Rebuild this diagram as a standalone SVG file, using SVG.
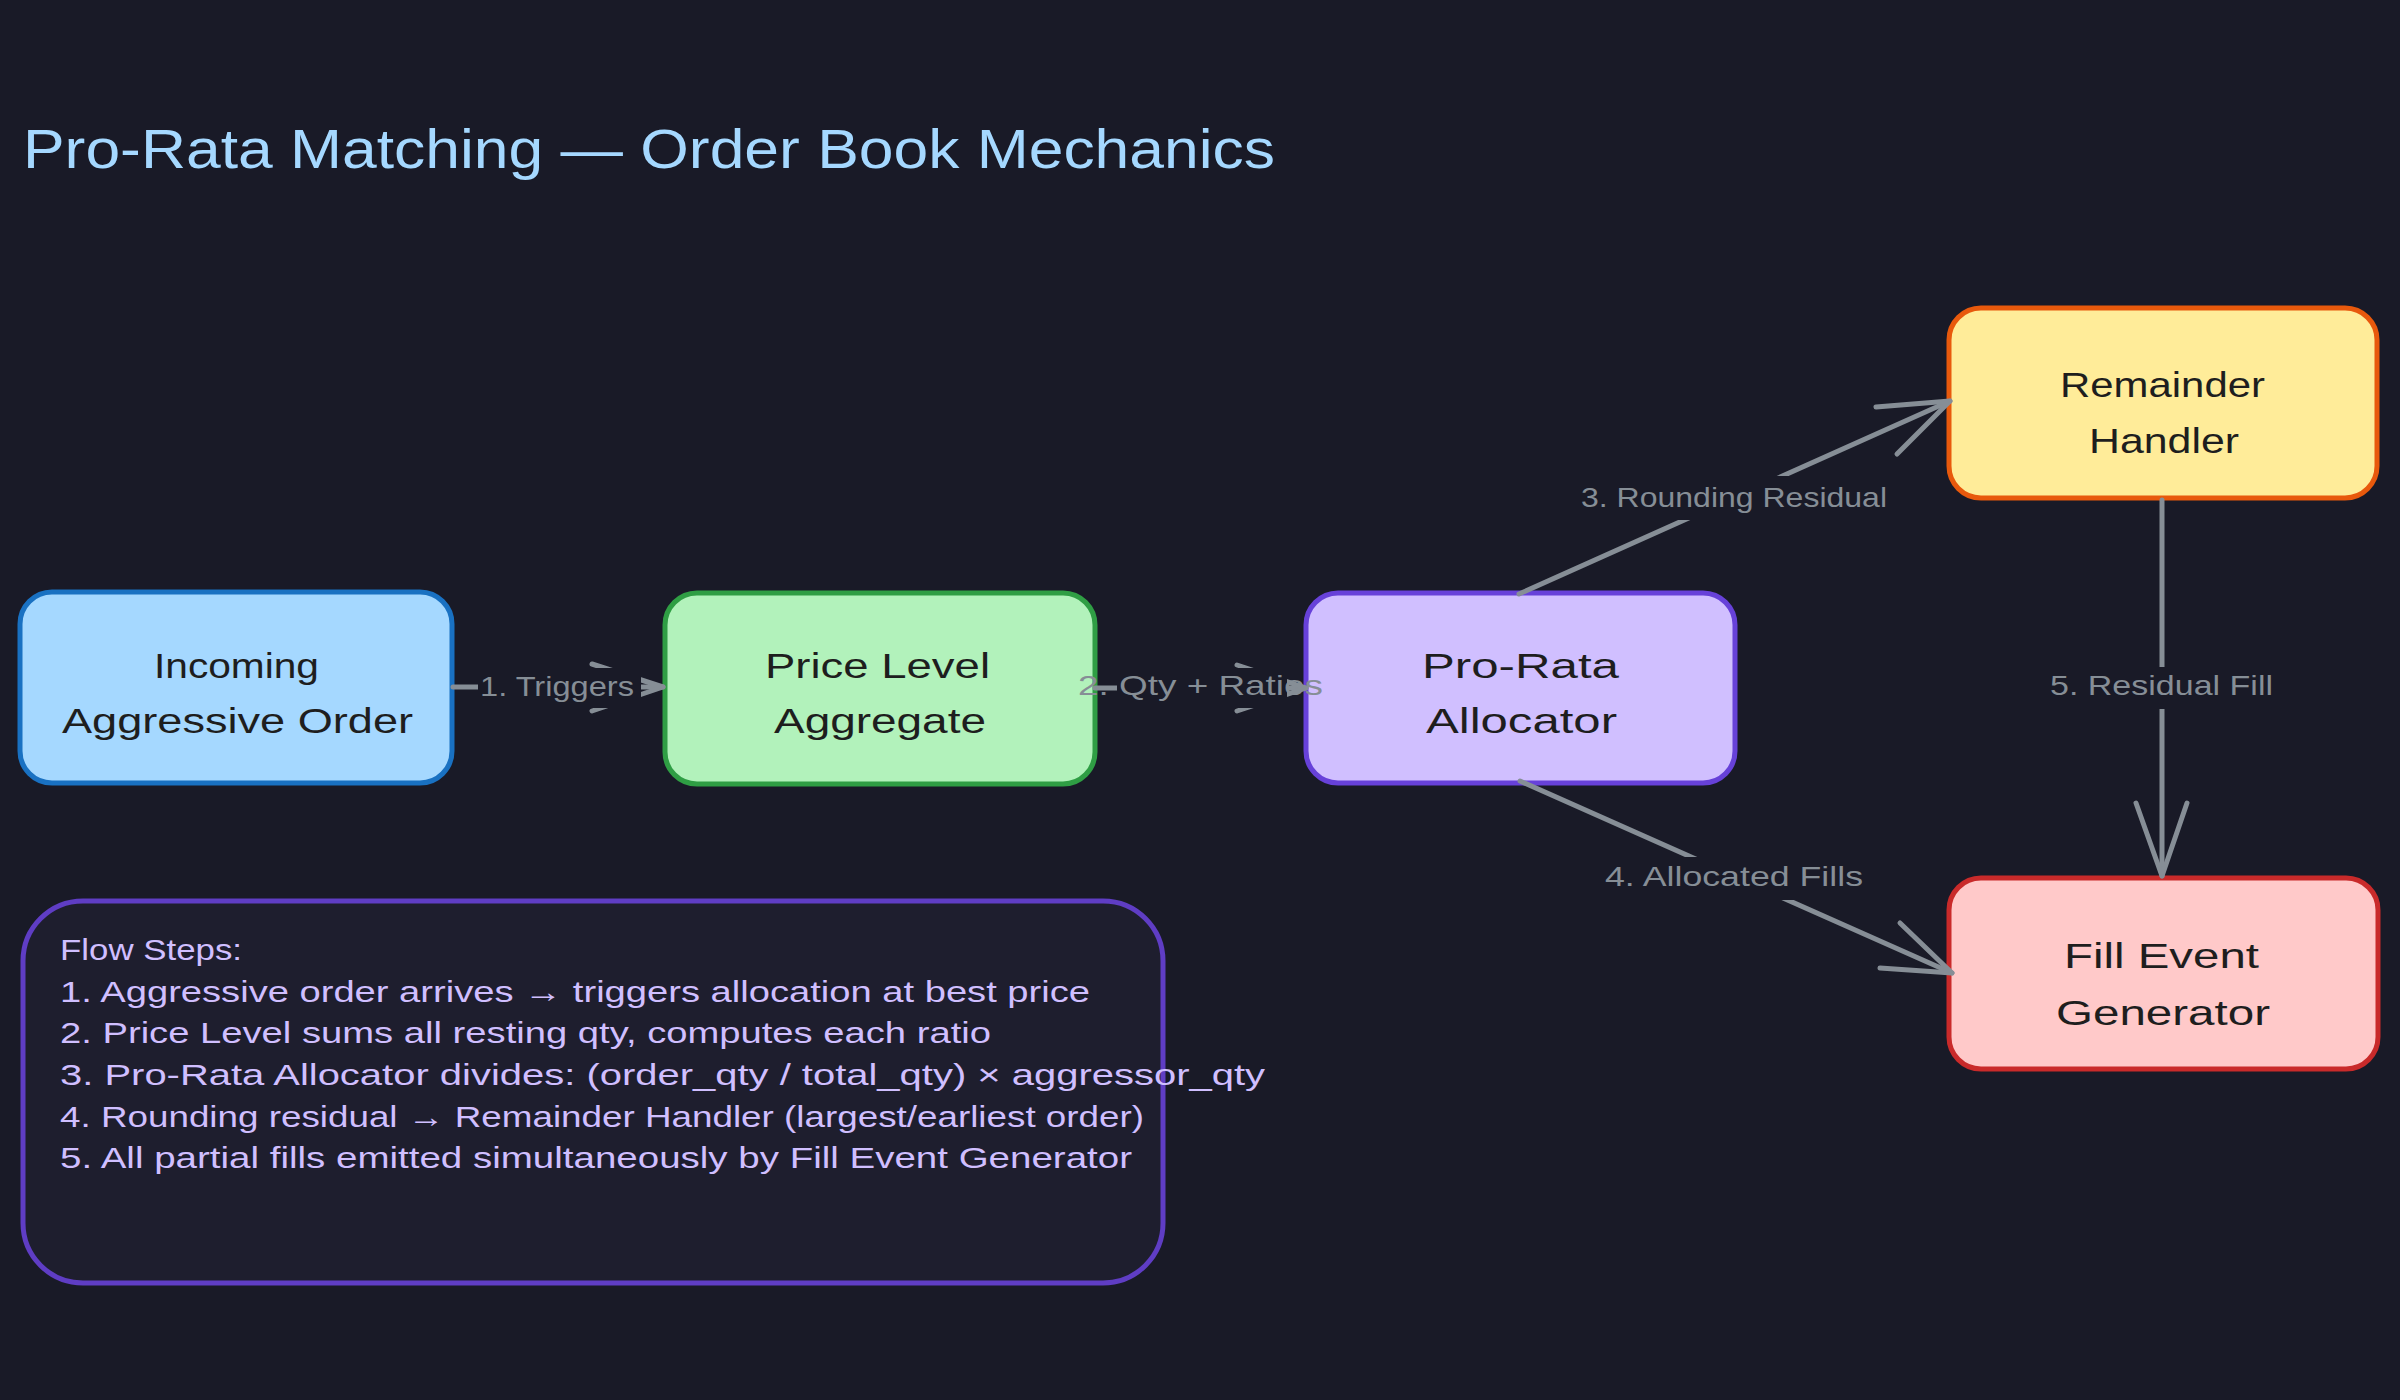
<svg xmlns="http://www.w3.org/2000/svg" width="2400" height="1400" viewBox="0 0 2400 1400">
  <style>
    .bg { fill: #191a27; }
    .node { stroke-width: 5; }
    .ntext { font-family: "Liberation Sans", "DejaVu Sans", sans-serif; font-size: 35px; fill: #1e1e1e; }
    .title { font-family: "Liberation Sans", "DejaVu Sans", sans-serif; font-size: 56px; fill: #a5d8ff; }
    .edge { stroke: #868e96; stroke-width: 5; fill: none; stroke-linecap: round; stroke-linejoin: round; }
    .mask { fill: #191a27; }
    .elabel { font-family: "Liberation Sans", "DejaVu Sans", sans-serif; font-size: 28px; fill: #868e96; }
    .notes { font-family: "Liberation Sans", "DejaVu Sans", sans-serif; font-size: 30px; fill: #d0bfff; }
  </style>
  <rect class="bg" x="0" y="0" width="2400" height="1400"/>

  <text class="title" x="23" y="168" textLength="1252" lengthAdjust="spacingAndGlyphs">Pro-Rata Matching — Order Book Mechanics</text>

  <g id="node-incoming">
    <rect class="node" x="20" y="592" width="432" height="191" rx="32" fill="#a5d8ff" stroke="#1971c2"/>
    <text class="ntext" x="154" y="678" textLength="165" lengthAdjust="spacingAndGlyphs">Incoming</text>
    <text class="ntext" x="62" y="733" textLength="351" lengthAdjust="spacingAndGlyphs">Aggressive Order</text>
  </g>
  <g id="node-pricelevel">
    <rect class="node" x="665" y="593" width="430" height="191" rx="32" fill="#b2f2bb" stroke="#2f9e44"/>
    <text class="ntext" x="765" y="678" textLength="225" lengthAdjust="spacingAndGlyphs">Price Level</text>
    <text class="ntext" x="774" y="733" textLength="212" lengthAdjust="spacingAndGlyphs">Aggregate</text>
  </g>
  <g id="node-allocator">
    <rect class="node" x="1306" y="593" width="429" height="190" rx="32" fill="#d0bfff" stroke="#6741d9"/>
    <text class="ntext" x="1422" y="678" textLength="197" lengthAdjust="spacingAndGlyphs">Pro-Rata</text>
    <text class="ntext" x="1426" y="733" textLength="191" lengthAdjust="spacingAndGlyphs">Allocator</text>
  </g>
  <g id="node-remainder">
    <rect class="node" x="1949" y="308" width="428" height="190" rx="32" fill="#ffec99" stroke="#e8590c"/>
    <text class="ntext" x="2060" y="397" textLength="205" lengthAdjust="spacingAndGlyphs">Remainder</text>
    <text class="ntext" x="2089" y="453" textLength="150" lengthAdjust="spacingAndGlyphs">Handler</text>
  </g>
  <g id="node-fillevent">
    <rect class="node" x="1949" y="878" width="429" height="191" rx="32" fill="#ffc9c9" stroke="#c92a2a"/>
    <text class="ntext" x="2064" y="968" textLength="195" lengthAdjust="spacingAndGlyphs">Fill Event</text>
    <text class="ntext" x="2056" y="1025" textLength="214" lengthAdjust="spacingAndGlyphs">Generator</text>
  </g>

  <g id="connectors">
    <g id="edge-1">
      <path class="edge" d="M453 687 L663 687"/>
      <path class="edge" d="M592 664 L663 687 L592 711"/>
      <rect class="mask" x="478" y="668" width="163" height="40"/>
      <text class="elabel" x="480" y="696" textLength="154" lengthAdjust="spacingAndGlyphs">1. Triggers</text>
    </g>
    <g id="edge-2">
      <path class="edge" d="M1095 688 L1306 688"/>
      <path class="edge" d="M1237 665 L1306 688 L1237 711"/>
      <rect class="mask" x="1117" y="668" width="170" height="40"/>
      <text class="elabel" x="1078" y="695" textLength="245" lengthAdjust="spacingAndGlyphs">2. Qty + Ratios</text>
    </g>
    <g id="edge-3">
      <path class="edge" d="M1519 594 L1950 401"/>
      <path class="edge" d="M1876 407 L1950 401 L1897 454"/>
      <rect class="mask" x="1581" y="476" width="306" height="44"/>
      <text class="elabel" x="1581" y="507" textLength="306" lengthAdjust="spacingAndGlyphs">3. Rounding Residual</text>
    </g>
    <g id="edge-4">
      <path class="edge" d="M1520 781 L1952 973"/>
      <path class="edge" d="M1900 923 L1952 973 L1880 968"/>
      <rect class="mask" x="1605" y="857" width="258" height="43"/>
      <text class="elabel" x="1605" y="886" textLength="258" lengthAdjust="spacingAndGlyphs">4. Allocated Fills</text>
    </g>
    <g id="edge-5">
      <path class="edge" d="M2162 500 L2162 876"/>
      <path class="edge" d="M2136 803 L2162 876 L2187 803"/>
      <rect class="mask" x="2050" y="667" width="223" height="42"/>
      <text class="elabel" x="2050" y="695" textLength="223" lengthAdjust="spacingAndGlyphs">5. Residual Fill</text>
    </g>
  </g>

  <g id="notes">
    <rect x="23" y="901" width="1140" height="382" rx="60" fill="#1e1e2e" stroke="#5f3dc4" stroke-width="5"/>
    <text class="notes" x="60" y="960" textLength="182" lengthAdjust="spacingAndGlyphs">Flow Steps:</text>
    <text class="notes" x="60" y="1002" textLength="1030" lengthAdjust="spacingAndGlyphs">1. Aggressive order arrives → triggers allocation at best price</text>
    <text class="notes" x="60" y="1043" textLength="931" lengthAdjust="spacingAndGlyphs">2. Price Level sums all resting qty, computes each ratio</text>
    <text class="notes" x="60" y="1085" textLength="1205" lengthAdjust="spacingAndGlyphs">3. Pro-Rata Allocator divides: (order_qty / total_qty) × aggressor_qty</text>
    <text class="notes" x="60" y="1127" textLength="1084" lengthAdjust="spacingAndGlyphs">4. Rounding residual → Remainder Handler (largest/earliest order)</text>
    <text class="notes" x="60" y="1168" textLength="1072" lengthAdjust="spacingAndGlyphs">5. All partial fills emitted simultaneously by Fill Event Generator</text>
  </g>
</svg>
